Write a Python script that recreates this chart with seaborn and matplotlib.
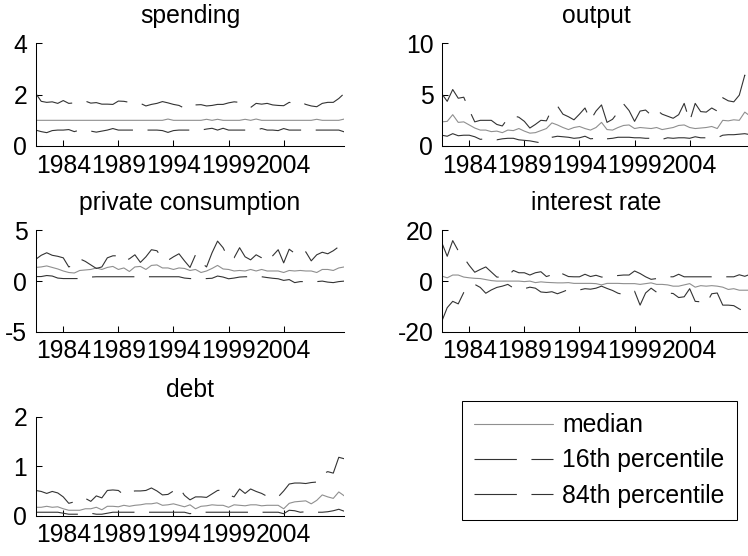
import numpy as np
import matplotlib
matplotlib.use("Agg")
import matplotlib.pyplot as plt
import seaborn as sns
from matplotlib.lines import Line2D

# Half-yearly observation dates
years = np.arange(1981.5, 2009.75, 0.5)

x_ticks = [1984, 1989, 1994, 1999, 2004]
x_tick_labels = ["1984", "1989", "1994", "1999", "2004"]

titles = ["spending", "output", "private consumption", "interest rate", "debt"]
legend_labels = ["median", "16th percentile", "84th percentile"]

spending_med = [
    1.00, 1.00, 1.00, 1.00, 1.00, 1.00, 1.00, 1.00, 1.00, 1.00,
    1.00, 1.00, 1.00, 1.00, 1.00, 1.00, 1.00, 1.00, 1.00, 1.00,
    1.00, 1.00, 1.00, 1.00, 1.05, 1.00, 1.00, 1.00, 1.00, 1.00,
    1.00, 1.04, 1.00, 1.04, 1.00, 1.00, 1.00, 1.00, 1.04, 1.00,
    1.05, 1.00, 1.00, 1.00, 1.00, 1.00, 1.00, 1.00, 1.00, 1.00,
    1.00, 1.04, 1.00, 1.00, 1.00, 1.00, 1.05]
spending_p16 = [
    0.62, 0.56, 0.52, 0.60, 0.62, 0.62, 0.64, 0.56, 0.62, 0.60,
    0.58, 0.54, 0.58, 0.62, 0.68, 0.62, 0.62, 0.62, 0.62, 0.62,
    0.62, 0.62, 0.62, 0.60, 0.53, 0.60, 0.62, 0.62, 0.62, 0.62,
    0.62, 0.66, 0.69, 0.62, 0.69, 0.62, 0.62, 0.62, 0.62, 0.62,
    0.62, 0.68, 0.62, 0.62, 0.60, 0.68, 0.62, 0.62, 0.62, 0.62,
    0.62, 0.62, 0.62, 0.62, 0.62, 0.62, 0.55]
spending_p84 = [
    2.05, 1.74, 1.70, 1.72, 1.66, 1.77, 1.66, 1.68, 1.70, 1.75,
    1.67, 1.69, 1.63, 1.63, 1.62, 1.75, 1.74, 1.70, 1.68, 1.66,
    1.56, 1.62, 1.66, 1.73, 1.68, 1.62, 1.58, 1.47, 1.60, 1.60,
    1.61, 1.56, 1.58, 1.62, 1.62, 1.68, 1.72, 1.70, 1.58, 1.50,
    1.66, 1.63, 1.66, 1.60, 1.58, 1.57, 1.70, 1.66, 1.72, 1.62,
    1.56, 1.53, 1.66, 1.70, 1.70, 1.85, 2.05]

output_med = [
    2.35, 2.40, 3.05, 2.30, 2.35, 2.05, 1.75, 1.55, 1.55, 1.40,
    1.45, 1.30, 1.55, 1.50, 1.70, 1.45, 1.25, 1.30, 1.50, 1.70,
    2.25, 2.05, 1.80, 1.60, 1.80, 1.90, 1.70, 1.55, 1.80, 2.30,
    1.60, 1.55, 1.80, 2.00, 2.05, 1.70, 1.80, 1.75, 1.70, 1.80,
    1.60, 1.70, 1.80, 2.00, 2.05, 1.80, 1.70, 1.75, 1.80, 1.90,
    1.70, 2.50, 2.45, 2.55, 2.50, 3.30, 2.90]
output_p16 = [
    1.05, 0.95, 1.20, 1.00, 1.05, 1.05, 0.90, 0.65, 0.70, 0.65,
    0.60, 0.70, 0.75, 0.75, 0.60, 0.55, 0.50, 0.40, 0.30, 0.60,
    0.85, 0.95, 0.90, 0.85, 0.75, 0.80, 0.95, 0.70, 0.75, 0.90,
    0.70, 0.75, 0.85, 0.85, 0.85, 0.80, 0.80, 0.75, 0.75, 0.80,
    0.65, 0.80, 0.75, 0.80, 0.80, 0.75, 0.90, 0.80, 0.80, 0.85,
    0.80, 1.05, 1.10, 1.10, 1.15, 1.20, 1.10]
output_p84 = [
    5.10, 4.35, 5.50, 4.65, 4.75, 3.50, 2.35, 2.50, 2.50, 2.50,
    2.10, 1.95, 2.70, 2.95, 2.80, 2.40, 1.75, 2.10, 2.50, 2.45,
    3.60, 3.90, 3.10, 2.85, 2.55, 3.10, 3.70, 2.50, 3.40, 4.00,
    2.30, 2.60, 3.30, 4.10, 3.45, 2.40, 3.40, 3.50, 3.00, 3.50,
    3.10, 2.90, 2.70, 3.05, 4.15, 2.40, 4.15, 3.35, 3.30, 3.70,
    3.40, 4.70, 4.40, 4.30, 4.95, 6.90, 5.60]

consumption_med = [
    1.35, 1.40, 1.50, 1.35, 1.20, 1.00, 0.85, 0.80, 1.05, 1.10,
    1.15, 1.30, 1.15, 1.35, 1.45, 1.15, 1.30, 0.95, 1.40, 1.45,
    1.15, 1.55, 1.60, 1.30, 1.30, 1.15, 1.30, 1.25, 1.05, 1.15,
    0.85, 1.00, 1.25, 1.55, 1.20, 1.15, 1.00, 1.05, 1.00, 1.15,
    1.00, 1.15, 1.00, 1.00, 1.00, 0.85, 1.05, 1.00, 1.05, 1.00,
    1.00, 0.85, 1.15, 1.15, 1.05, 1.30, 1.40]
consumption_p16 = [
    0.45, 0.45, 0.55, 0.50, 0.30, 0.25, 0.25, 0.25, 0.25, 0.30,
    0.40, 0.43, 0.43, 0.43, 0.43, 0.43, 0.43, 0.43, 0.43, 0.43,
    0.43, 0.43, 0.43, 0.43, 0.43, 0.43, 0.43, 0.30, 0.25, 0.23,
    0.23, 0.25, 0.28, 0.50, 0.40, 0.23, 0.30, 0.40, 0.43, 0.43,
    0.43, 0.43, 0.35, 0.28, 0.23, 0.07, 0.15, -0.15, -0.05, -0.05,
    -0.07, -0.05, 0.00, -0.10, -0.15, -0.05, 0.00]
consumption_p84 = [
    2.15, 2.55, 2.80, 2.55, 2.45, 2.30, 1.40, 1.60, 2.20, 1.95,
    1.60, 1.25, 1.40, 2.30, 2.50, 2.50, 2.00, 2.20, 2.60, 1.85,
    2.40, 3.10, 3.00, 2.20, 2.05, 2.40, 2.70, 2.00, 1.35, 2.60,
    1.85, 1.40, 2.80, 3.95, 3.30, 2.20, 2.30, 3.30, 2.40, 2.10,
    2.60, 2.30, 1.90, 2.50, 3.10, 1.80, 3.15, 2.75, 2.50, 2.90,
    2.00, 2.60, 2.85, 2.70, 3.00, 3.40, 3.50]

rate_med = [
    2.0, 1.3, 2.4, 2.4, 1.6, 1.3, 1.1, 1.0, 0.6, 0.2,
    0.0, 0.0, 0.0, 0.0, 0.0, -0.2, 0.0, -0.6, -0.3, -0.5,
    -0.6, -0.7, -0.7, -0.6, -0.9, -0.9, -0.9, -0.9, -1.0, -1.5,
    -0.9, -0.9, -0.9, -1.0, -1.0, -1.0, -1.3, -1.0, -0.7, -1.3,
    -1.3, -1.5, -2.0, -2.0, -1.5, -1.0, -2.4, -1.8, -2.0, -1.8,
    -2.0, -2.4, -3.3, -3.0, -3.6, -3.6, -3.6]
rate_p16 = [
    -16.0, -10.5, -8.0, -9.0, -4.5, -2.0, -1.3, -2.5, -4.8, -3.5,
    -2.5, -2.0, -1.3, -2.7, -2.8, -3.0, -2.4, -2.8, -4.3, -4.5,
    -4.2, -5.0, -4.2, -3.3, -3.5, -3.5, -3.0, -3.2, -2.8, -2.0,
    -2.9, -3.7, -4.8, -5.3, -4.2, -4.0, -9.5, -4.7, -2.8, -4.4,
    -4.7, -4.7, -4.9, -6.5, -6.2, -3.0, -8.0, -8.2, -9.0, -5.0,
    -4.7, -9.5, -9.5, -9.7, -11.0, -12.0, -12.5]
rate_p84 = [
    15.3, 9.8, 16.0, 12.0, 9.3, 6.2, 3.5, 4.6, 5.6, 3.6,
    1.6, 1.5, 2.0, 4.2, 3.3, 3.3, 2.4, 3.3, 3.7, 1.8,
    2.5, 4.0, 2.8, 1.8, 1.7, 1.7, 2.7, 1.8, 2.3, 1.6,
    1.6, 2.0, 2.2, 2.4, 2.4, 4.0, 3.0, 1.7, 0.7, 1.0,
    1.5, 1.7, 1.7, 2.7, 1.7, 1.7, 1.7, 1.7, 1.7, 1.7,
    1.7, 1.7, 1.7, 1.7, 2.5, 1.9, 2.7]

debt_med = [
    0.17, 0.17, 0.19, 0.17, 0.18, 0.14, 0.11, 0.11, 0.11, 0.14,
    0.14, 0.17, 0.12, 0.19, 0.19, 0.18, 0.21, 0.19, 0.21, 0.22,
    0.24, 0.24, 0.26, 0.21, 0.22, 0.24, 0.21, 0.18, 0.22, 0.14,
    0.19, 0.20, 0.22, 0.21, 0.21, 0.17, 0.22, 0.21, 0.20, 0.22,
    0.22, 0.20, 0.21, 0.21, 0.21, 0.14, 0.25, 0.28, 0.29, 0.30,
    0.24, 0.31, 0.42, 0.38, 0.35, 0.48, 0.40]
debt_p16 = [
    0.07, 0.07, 0.07, 0.07, 0.07, 0.05, 0.03, 0.03, 0.03, 0.03,
    0.05, 0.03, 0.03, 0.05, 0.07, 0.07, 0.07, 0.07, 0.07, 0.07,
    0.07, 0.07, 0.07, 0.07, 0.07, 0.07, 0.07, 0.07, 0.04, 0.07,
    0.07, 0.07, 0.07, 0.07, 0.07, 0.07, 0.07, 0.07, 0.07, 0.07,
    0.07, 0.07, 0.07, 0.07, 0.07, 0.04, 0.11, 0.10, 0.07, 0.08,
    0.07, 0.07, 0.07, 0.08, 0.10, 0.13, 0.09]
debt_p84 = [
    0.51, 0.49, 0.45, 0.49, 0.46, 0.38, 0.25, 0.28, 0.34, 0.35,
    0.29, 0.40, 0.36, 0.51, 0.52, 0.51, 0.42, 0.48, 0.50, 0.50,
    0.51, 0.56, 0.50, 0.42, 0.43, 0.50, 0.58, 0.41, 0.32, 0.38,
    0.38, 0.37, 0.44, 0.51, 0.52, 0.42, 0.38, 0.54, 0.45, 0.54,
    0.49, 0.45, 0.39, 0.38, 0.38, 0.50, 0.64, 0.66, 0.66, 0.65,
    0.67, 0.68, 0.84, 0.89, 0.86, 1.18, 1.15]

y_limits = [(0, 4), (0, 10), (-5, 5), (-20, 20), (0, 2)]
y_ticks = [[0, 2, 4], [0, 5, 10], [-5, 0, 5], [-20, 0, 20], [0, 1, 2]]

series = [
    (spending_med, spending_p16, spending_p84),
    (output_med, output_p16, output_p84),
    (consumption_med, consumption_p16, consumption_p84),
    (rate_med, rate_p16, rate_p84),
    (debt_med, debt_p16, debt_p84),
]

FS = 17.8

sns.set_theme(style="ticks")
plt.rcParams.update({
    "font.family": ["Liberation Sans", "DejaVu Sans"],
    "font.size": FS,
    "axes.edgecolor": "black",
    "axes.linewidth": 0.75,
    "axes.unicode_minus": False,
    "xtick.direction": "in",
    "ytick.direction": "in",
    "xtick.major.size": 4.3,
    "ytick.major.size": 4.3,
    "xtick.major.width": 0.75,
    "ytick.major.width": 0.75,
    "xtick.color": "black",
    "ytick.color": "black",
    "xtick.labelsize": FS,
    "ytick.labelsize": FS,
    "xtick.major.pad": 5.5,
    "ytick.major.pad": 6.0,
    "lines.scale_dashes": False,
    "text.color": "black",
})

MED_COLOR = "#8f8f8f"
PCT_COLOR = "#333333"
LW = 0.8
DASH = (0, (30.5, 10.5))

W, H = 748, 556
fig = plt.figure(figsize=(W / 100, H / 100), dpi=100)

# panel boxes in pixels: left, top, width, height
boxes = [
    (35.7, 43.3, 308.6, 102.7),
    (441.7, 43.3, 308.6, 102.7),
    (35.7, 230.5, 308.6, 101.2),
    (441.7, 230.5, 308.6, 101.2),
    (35.7, 416.7, 308.6, 99.0),
]

for i, (l, t, w, h) in enumerate(boxes):
    ax = fig.add_axes([l / W, 1 - (t + h) / H, w / W, h / H])
    med, lo, hi = series[i]
    sns.lineplot(x=years, y=med, ax=ax, color=MED_COLOR, lw=LW)
    sns.lineplot(x=years, y=lo, ax=ax, color=PCT_COLOR, lw=LW, linestyle=DASH)
    sns.lineplot(x=years, y=hi, ax=ax, color=PCT_COLOR, lw=LW, linestyle=DASH)
    ax.set_xlim(1981.5, 2009.5)
    ax.set_ylim(*y_limits[i])
    ax.set_xticks(x_ticks)
    ax.set_xticklabels(x_tick_labels)
    ax.set_yticks(y_ticks[i])
    ax.set_yticklabels([str(v) for v in y_ticks[i]])
    ax.set_xlabel("")
    ax.set_ylabel("")
    ax.set_title(titles[i], fontsize=FS, pad=14.5)
    sns.despine(ax=ax)

handles = [
    Line2D([], [], color=MED_COLOR, lw=LW),
    Line2D([], [], color=PCT_COLOR, lw=LW, linestyle=DASH),
    Line2D([], [], color=PCT_COLOR, lw=LW, linestyle=DASH),
]
leg = fig.legend(handles, legend_labels, loc="upper left",
                 bbox_to_anchor=(462 / W, 1 - 401 / H),
                 bbox_transform=fig.transFigure,
                 frameon=True, fancybox=False, shadow=False,
                 edgecolor="black", framealpha=1, fontsize=FS,
                 handlelength=3.2, handletextpad=0.35, borderpad=0.5,
                 labelspacing=0.45, borderaxespad=0)
leg.get_frame().set_linewidth(0.75)

fig.savefig("out.png", dpi=100)
